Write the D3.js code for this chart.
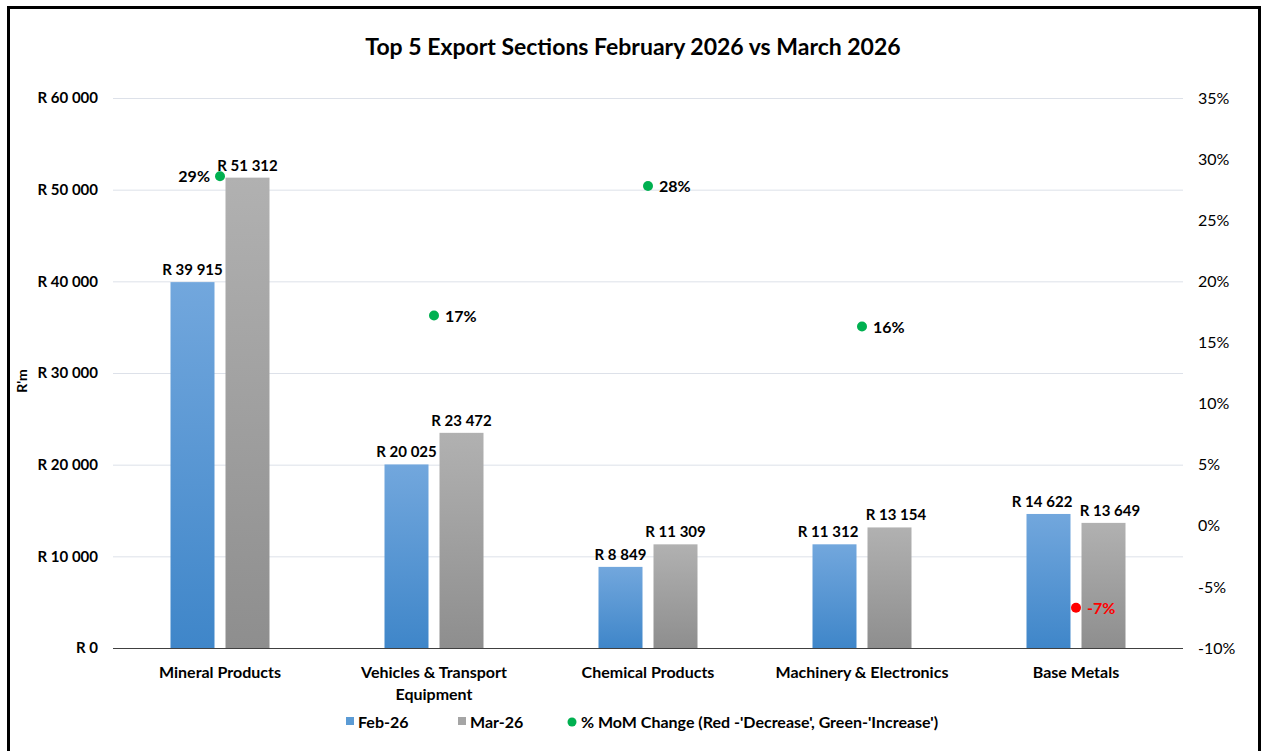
<!DOCTYPE html>
<html>
<head>
<meta charset="utf-8">
<title>Top 5 Export Sections</title>
<script src="https://d3js.org/d3.v7.min.js"></script>
<style>
  body { margin: 0; background: #fff; font-family: Lato, "Open Sans", sans-serif; }
  svg text { font-weight: bold; fill: #000; }
</style>
</head>
<body>
<div id="chart"></div>
<script>
// data
var sections = ["Mineral Products", "Vehicles & Transport Equipment", "Chemical Products", "Machinery & Electronics", "Base Metals"];
var feb26 = [39915, 20025, 8849, 11312, 14622];
var mar26 = [51312, 23472, 11309, 13154, 13649];
var momPct = [28.6, 17.2, 27.8, 16.3, -6.7];
var leftTicks = [0, 10000, 20000, 30000, 40000, 50000, 60000];
var rightTicks = [-10, -5, 0, 5, 10, 15, 20, 25, 30, 35];

var W = 1263, H = 751;
var m = { left: 113, right: 1183, top: 98, bottom: 648 };

var svg = d3.select('#chart').append('svg')
  .attr('width', W).attr('height', H);

var defs = svg.append('defs');
function grad(id, top, bottom) {
  var g = defs.append('linearGradient').attr('id', id)
    .attr('x1', 0).attr('y1', 0).attr('x2', 0).attr('y2', 1);
  g.append('stop').attr('offset', '0%').attr('stop-color', top);
  g.append('stop').attr('offset', '100%').attr('stop-color', bottom);
}
grad('gBlue', '#72a7dd', '#3f86c9');
grad('gGrey', '#b1b1b1', '#8e8e8e');

// frame
svg.append('rect').attr('x', 8.5).attr('y', 7.5).attr('width', 1251).attr('height', 760)
  .attr('fill', 'none').attr('stroke', '#000').attr('stroke-width', 3);

var x = d3.scaleBand().domain(sections).range([m.left, m.right]);
var y = d3.scaleLinear().domain([0, 60000]).range([m.bottom, m.top]);
var y2 = d3.scaleLinear().domain([-10, 35]).range([m.bottom, m.top]);

var fmtR = function(v) { return 'R ' + d3.format(',')(v).replace(/,/g, '\u2005'); };

// gridlines
svg.append('g').selectAll('line').data(leftTicks.filter(function(d){ return d > 0; }))
  .join('line')
  .attr('x1', m.left).attr('x2', m.right)
  .attr('y1', function(d){ return y(d) + 0.5; }).attr('y2', function(d){ return y(d) + 0.5; })
  .attr('stroke', '#dde1e9').attr('stroke-width', 1);

// left axis
var yAxis = svg.append('g').attr('transform', 'translate(' + m.left + ',0)')
  .call(d3.axisLeft(y).tickValues(leftTicks).tickSize(0).tickPadding(15).tickFormat(fmtR));
yAxis.select('.domain').remove();
yAxis.selectAll('text').style('font-size', '15px').style('font-family', 'Lato');

// right axis
var yAxis2 = svg.append('g').attr('transform', 'translate(' + m.right + ',0)')
  .call(d3.axisRight(y2).tickValues(rightTicks).tickSize(0).tickPadding(15)
    .tickFormat(function(d){ return d + '%'; }));
yAxis2.select('.domain').remove();
yAxis2.selectAll('text').style('font-size', '16px').style('font-family', 'Lato').style('font-weight', 'normal');

// y label
svg.append('text').attr('transform', 'translate(27,381) rotate(-90)')
  .attr('text-anchor', 'middle').style('font-size', '14px').text("R'm");

// bars
var barW = 44, gap = 11;
function barX(i, k) {
  var c = x(sections[i]) + x.bandwidth() / 2;
  return c - (barW * 2 + gap) / 2 + k * (barW + gap);
}
var labelSets = [];
[feb26, mar26].forEach(function(series, k) {
  svg.append('g').selectAll('rect').data(series).join('rect')
    .attr('x', function(d, i){ return barX(i, k); })
    .attr('y', function(d){ return y(d); })
    .attr('width', barW)
    .attr('height', function(d){ return y(0) - y(d); })
    .attr('fill', k === 0 ? 'url(#gBlue)' : 'url(#gGrey)');
  labelSets.push(svg.append('g').selectAll('text').data(series).join('text')
    .attr('x', function(d, i){ return barX(i, k) + barW / 2; })
    .attr('y', function(d){ return y(d) - 7; })
    .attr('text-anchor', 'middle')
    .style('font-size', '15px')
    .text(fmtR));
});
// push apart paired labels that would overlap
var febNodes = labelSets[0].nodes(), marNodes = labelSets[1].nodes();
febNodes.forEach(function(a, i) {
  var b = marNodes[i], ba = a.getBBox(), bb = b.getBBox();
  var vOverlap = ba.y < bb.y + bb.height && bb.y < ba.y + ba.height;
  var need = (ba.x + ba.width + 7) - bb.x;
  if (vOverlap && need > 0) {
    a.setAttribute('x', +a.getAttribute('x') - need / 2);
    b.setAttribute('x', +b.getAttribute('x') + need / 2);
  }
});

// baseline
svg.append('line').attr('x1', m.left).attr('x2', m.right)
  .attr('y1', y(0) + 0.5).attr('y2', y(0) + 0.5).attr('stroke', '#404040').attr('stroke-width', 1);

// x labels
svg.append('g').selectAll('text').data(sections).join('text')
  .attr('x', function(d){ return x(d) + x.bandwidth() / 2; })
  .attr('y', 678)
  .attr('text-anchor', 'middle')
  .style('font-size', '16px')
  .each(function(d) {
    var t = d3.select(this);
    var lines = d === "Vehicles & Transport Equipment" ? ["Vehicles & Transport", "Equipment"] : [d];
    lines.forEach(function(l, j) {
      t.append('tspan').attr('x', x(d) + x.bandwidth() / 2).attr('dy', j ? 22 : 0).text(l);
    });
  });

// % MoM points
var pts = svg.append('g');
momPct.forEach(function(v, i) {
  var cx = x(sections[i]) + x.bandwidth() / 2;
  var col = v < 0 ? '#ff0000' : '#00b050';
  pts.append('circle').attr('cx', cx).attr('cy', y2(v)).attr('r', 5).attr('fill', col);
  var left = i === 0;
  pts.append('text')
    .attr('x', left ? cx - 10 : cx + 11)
    .attr('y', y2(v) + 6)
    .attr('text-anchor', left ? 'end' : 'start')
    .style('font-size', '16px')
    .style('fill', v < 0 ? '#ff0000' : '#000')
    .text(Math.round(v) + '%');
});

// title
svg.append('text').attr('x', 633).attr('y', 55).attr('text-anchor', 'middle')
  .style('font-size', '23px').text('Top 5 Export Sections February 2026 vs March 2026');

// legend
var lg = svg.append('g').style('font-size', '16px');
lg.append('rect').attr('x', 346).attr('y', 717).attr('width', 8).attr('height', 8).attr('fill', '#5b9bd5');
lg.append('text').attr('x', 358).attr('y', 728).text('Feb-26');
lg.append('rect').attr('x', 458).attr('y', 717).attr('width', 8).attr('height', 8).attr('fill', '#a5a5a5');
lg.append('text').attr('x', 470).attr('y', 728).text('Mar-26');
lg.append('circle').attr('cx', 572).attr('cy', 722).attr('r', 4.5).attr('fill', '#00b050');
lg.append('text').attr('x', 581).attr('y', 728).text("% MoM Change (Red -'Decrease', Green-'Increase')");
</script>
</body>
</html>
